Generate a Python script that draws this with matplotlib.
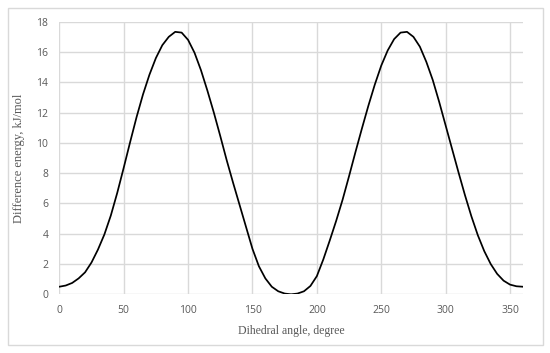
import matplotlib
matplotlib.use("Agg")
import matplotlib.pyplot as plt
from matplotlib.patches import Rectangle

angle = list(range(0, 365, 5))
energy = [0.50, 0.58, 0.75, 1.05, 1.45, 2.10, 2.95, 3.95, 5.20, 6.70,
          8.35, 10.05, 11.70, 13.20, 14.50, 15.60, 16.45, 17.00, 17.33, 17.28,
          16.80, 15.95, 14.80, 13.45, 12.00, 10.45, 8.85, 7.35, 5.90, 4.45,
          3.00, 1.85, 1.05, 0.50, 0.20, 0.05, 0.00, 0.05, 0.20, 0.55,
          1.20, 2.30, 3.55, 4.85, 6.25, 7.80, 9.40, 10.95, 12.45, 13.85,
          15.10, 16.10, 16.85, 17.28, 17.33, 17.00, 16.35, 15.35, 14.15, 12.70,
          11.15, 9.60, 8.05, 6.55, 5.15, 3.90, 2.85, 2.00, 1.35, 0.90,
          0.64, 0.53, 0.50]
xticks = [0, 50, 100, 150, 200, 250, 300, 350]
yticks = [0, 2, 4, 6, 8, 10, 12, 14, 16, 18]

W, H = 550, 353
fig = plt.figure(figsize=(W / 100, H / 100), dpi=100)
fig.patch.set_facecolor("white")
fig.patches.append(Rectangle((7.5 / W, 1 - 345 / H), (543.3 - 7.5) / W, (345 - 8.3) / H,
                             transform=fig.transFigure, fill=False,
                             edgecolor="#d9d9d9", linewidth=1.0))

left, right, top, bottom = 59.3, 522.9, 21.7, 294.3
ax = fig.add_axes([left / W, 1 - bottom / H, (right - left) / W, (bottom - top) / H])
ax.plot(angle, energy, color="black", linewidth=1.25, solid_joinstyle="round",
        solid_capstyle="round", zorder=3)
ax.set_xlim(0, 360)
ax.set_ylim(0, 18)
ax.set_xticks(xticks)
ax.set_yticks(yticks)
for s in ax.spines.values():
    s.set_visible(False)
ax.grid(True, color="#d9d9d9", linewidth=1.0)
ax.set_axisbelow(True)
ax.tick_params(length=0, labelsize=7.5, labelcolor="#595959", pad=8)
for lab in ax.get_xticklabels() + ax.get_yticklabels():
    lab.set_family(["Open Sans", "DejaVu Sans"])
ax.set_xlabel("Dihedral angle, degree", family="Liberation Serif", fontsize=8.5,
              color="#595959", labelpad=6)
ax.set_ylabel("Difference energy, kJ/mol", family="Liberation Serif", fontsize=9,
              color="#595959", labelpad=8)
fig.savefig("out.png", dpi=100, facecolor="white")
